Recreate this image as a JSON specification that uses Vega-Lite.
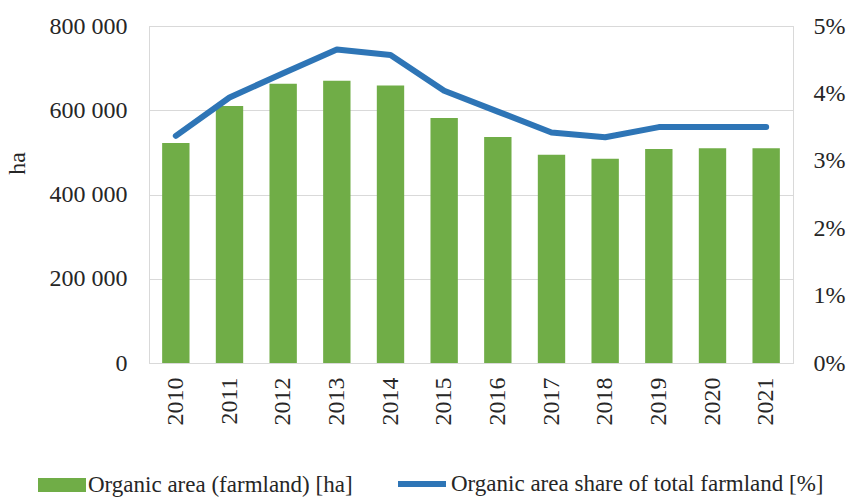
{
  "$schema": "https://vega.github.io/schema/vega-lite/v6.json",
  "width": 644,
  "height": 337,
  "autosize": "none",
  "padding": {"left": 149, "top": 26, "right": 55, "bottom": 135},
  "background": "white",
  "config": {
    "font": "Times New Roman",
    "view": {"stroke": "#d9d9d9", "strokeWidth": 1},
    "axis": {"labelFont": "Times New Roman", "titleFont": "Times New Roman", "labelColor": "#262626", "titleColor": "#262626", "labelFontSize": 24, "titleFontSize": 24, "titleFontWeight": "normal"},
    "legend": {"labelFont": "Times New Roman", "labelFontSize": 23, "labelColor": "#262626", "labelLimit": 600}
  },
  "data": {
    "values": [
      {"year": "2010", "area": 522000, "share": 3.37},
      {"year": "2011", "area": 610000, "share": 3.94},
      {"year": "2012", "area": 663000, "share": 4.30},
      {"year": "2013", "area": 670000, "share": 4.65},
      {"year": "2014", "area": 659000, "share": 4.57},
      {"year": "2015", "area": 581500, "share": 4.04},
      {"year": "2016", "area": 536500, "share": 3.73},
      {"year": "2017", "area": 494500, "share": 3.42},
      {"year": "2018", "area": 485000, "share": 3.35},
      {"year": "2019", "area": 508000, "share": 3.50},
      {"year": "2020", "area": 509500, "share": 3.50},
      {"year": "2021", "area": 509500, "share": 3.50}
    ]
  },
  "encoding": {
    "x": {
      "field": "year", "type": "ordinal",
      "scale": {"paddingInner": 0.49, "paddingOuter": 0.245},
      "axis": {"title": null, "labelAngle": -90, "labelPadding": 14, "ticks": false, "domainColor": "#d9d9d9", "labelAlign": "right", "labelBaseline": "middle"}
    }
  },
  "layer": [
    {
      "mark": {"type": "bar", "color": "#70AD47"},
      "encoding": {
        "y": {
          "field": "area", "type": "quantitative",
          "scale": {"domain": [0, 800000], "nice": false},
          "axis": {"title": "ha", "titleAngle": -90, "titleX": -132, "titleY": 137, "titleAlign": "center", "titleBaseline": "middle", "values": [0, 200000, 400000, 600000, 800000], "labelExpr": "replace(format(datum.value, ','), ',', ' ')", "labelPadding": 22, "ticks": false, "domainColor": "#d9d9d9", "gridColor": "#d9d9d9", "grid": true}
        },
        "fill": {
          "datum": "Organic area (farmland) [ha]",
          "scale": {"range": ["#70AD47"]},
          "legend": {"title": null, "orient": "none", "legendX": -111, "legendY": 435, "padding": 0, "symbolType": "M-1,-0.29H1V0.29H-1Z", "symbolSize": 2304, "symbolStrokeWidth": 0, "labelOffset": 2}
        }
      }
    },
    {
      "mark": {"type": "line", "color": "#2E75B6", "strokeWidth": 6, "strokeCap": "round", "strokeJoin": "round"},
      "encoding": {
        "y": {
          "field": "share", "type": "quantitative",
          "scale": {"domain": [0, 5], "nice": false},
          "axis": {"orient": "right", "title": null, "values": [0, 1, 2, 3, 4, 5], "labelExpr": "datum.value + '%'", "labelPadding": 20, "ticks": false, "domainColor": "#d9d9d9", "grid": false}
        },
        "stroke": {
          "datum": "Organic area share of total farmland [%]",
          "scale": {"range": ["#2E75B6"]},
          "legend": {"title": null, "orient": "none", "legendX": 246, "legendY": 431, "padding": 0, "symbolType": "stroke", "symbolSize": 2304, "symbolStrokeWidth": 6, "labelOffset": 2}
        }
      }
    }
  ],
  "resolve": {"scale": {"y": "independent", "fill": "independent", "stroke": "independent"}}
}
